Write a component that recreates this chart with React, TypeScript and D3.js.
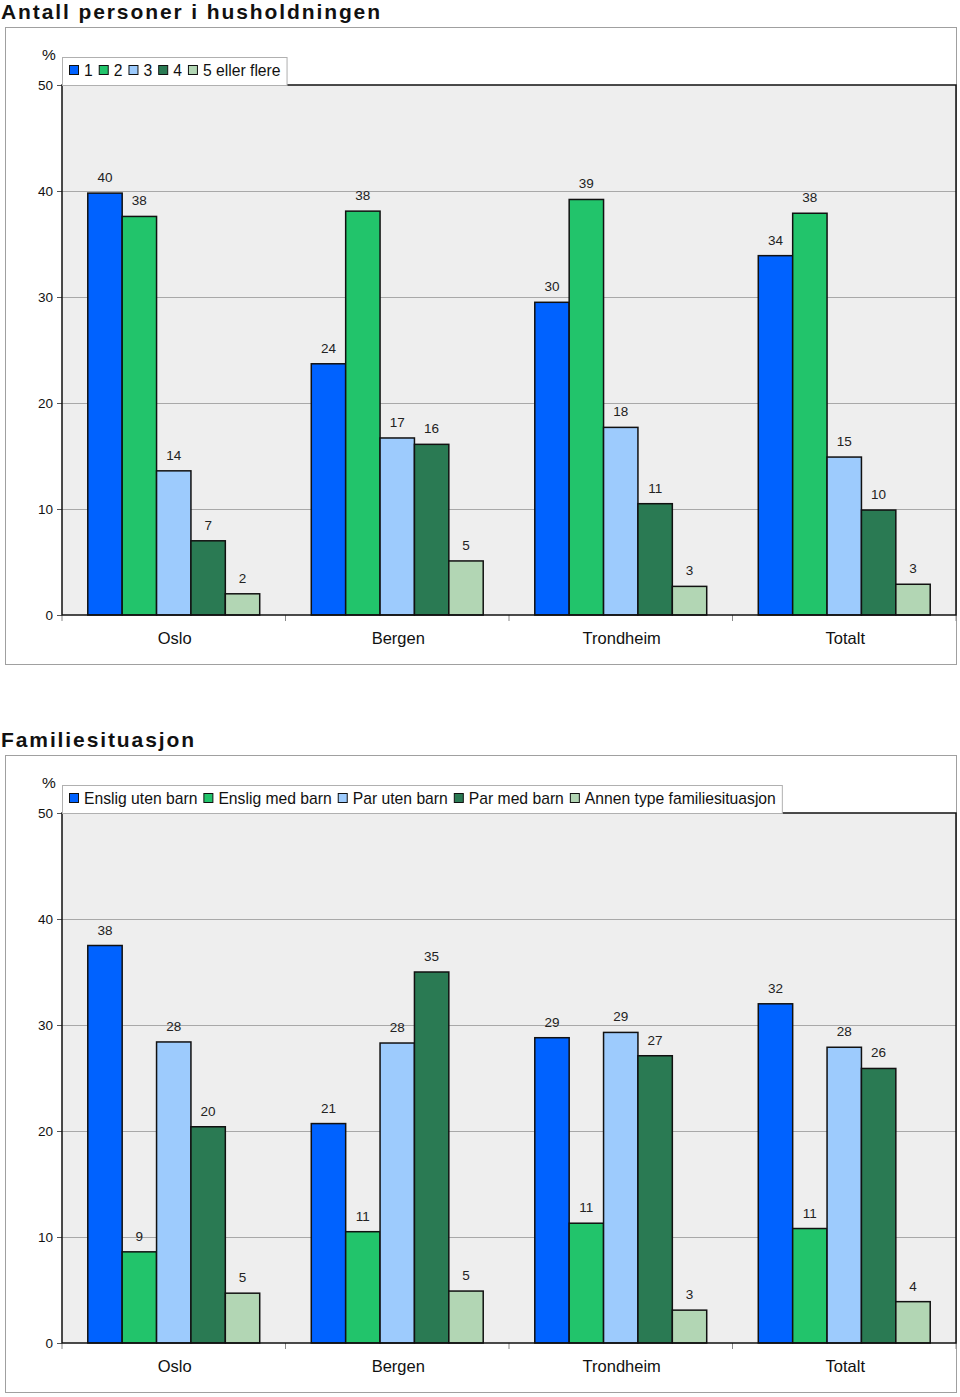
import React, { useEffect, useRef } from "react";
import * as d3 from "d3";

const categories = ["Oslo", "Bergen", "Trondheim", "Totalt"];

const series1Names = ["1", "2", "3", "4", "5 eller flere"];
const s1_1 = [39.8, 23.7, 29.5, 33.9];
const s1_2 = [37.6, 38.1, 39.2, 37.9];
const s1_3 = [13.6, 16.7, 17.7, 14.9];
const s1_4 = [7.0, 16.1, 10.5, 9.9];
const s1_5 = [2.0, 5.1, 2.7, 2.9];

const series2Names = ["Enslig uten barn", "Enslig med barn", "Par uten barn", "Par med barn", "Annen type familiesituasjon"];
const s2_1 = [37.5, 20.7, 28.8, 32.0];
const s2_2 = [8.6, 10.5, 11.3, 10.8];
const s2_3 = [28.4, 28.3, 29.3, 27.9];
const s2_4 = [20.4, 35.0, 27.1, 25.9];
const s2_5 = [4.7, 4.9, 3.1, 3.9];

const yTicks = [0, 10, 20, 30, 40, 50];
const colors = ["#0062ff", "#22c46b", "#9dcbfd", "#2a7a53", "#b2d6b4"];

const FONT = "'Liberation Sans', Arial, Helvetica, sans-serif";

function drawChart(
  g: d3.Selection<SVGGElement, unknown, null, undefined>,
  title: string,
  names: string[],
  data: number[][]
) {
  const plotL = 62, plotR = 956, plotT = 85, plotB = 615;

  g.append("text")
    .attr("x", 1).attr("y", 18.5)
    .attr("font-family", FONT).attr("font-weight", "bold")
    .attr("font-size", 21).attr("letter-spacing", 1.9)
    .attr("fill", "#111").text(title);

  g.append("rect")
    .attr("x", 5.5).attr("y", 27.5).attr("width", 951).attr("height", 637)
    .attr("fill", "#fff").attr("stroke", "#a0a0a0").attr("stroke-width", 1);

  const y = d3.scaleLinear().domain([0, 50]).range([plotB, plotT]);
  const x0 = d3.scaleBand<string>().domain(categories).range([plotL, plotR]);
  const bw = x0.bandwidth() / 6.5;
  const x1 = d3.scaleBand<string>().domain(names)
    .range([0.75 * bw, 5.75 * bw]).paddingInner(0).paddingOuter(0);

  g.append("rect")
    .attr("x", plotL).attr("y", plotT).attr("width", plotR - plotL).attr("height", plotB - plotT)
    .attr("fill", "#eeeeee");

  // gridlines
  g.selectAll("line.grid").data(yTicks.filter(t => t > 0 && t < 50)).enter()
    .append("line")
    .attr("x1", plotL).attr("x2", plotR)
    .attr("y1", d => Math.round(y(d)) + 0.5).attr("y2", d => Math.round(y(d)) + 0.5)
    .attr("stroke", "#a8a8a8").attr("stroke-width", 1);

  // y ticks and labels
  yTicks.forEach(t => {
    const yy = Math.round(y(t)) + 0.5;
    g.append("line").attr("x1", plotL - 5).attr("x2", plotL).attr("y1", yy).attr("y2", yy)
      .attr("stroke", "#555");
    g.append("text").attr("x", 53).attr("y", yy + 4.5)
      .attr("text-anchor", "end").attr("font-family", FONT).attr("font-size", 13.5)
      .attr("fill", "#111").text(String(t));
  });

  g.append("text").attr("x", 49).attr("y", 60).attr("text-anchor", "middle")
    .attr("font-family", FONT).attr("font-size", 15.5).attr("fill", "#111").text("%");

  // x ticks
  const bounds = [plotL, ...categories.map(c => (x0(c) as number) + x0.bandwidth())];
  bounds.forEach(b => {
    g.append("line").attr("x1", b).attr("x2", b).attr("y1", plotB).attr("y2", plotB + 6)
      .attr("stroke", "#888");
  });

  // bars
  categories.forEach((c, ci) => {
    names.forEach((n, si) => {
      const v = data[si][ci];
      const bx = (x0(c) as number) + (x1(n) as number);
      g.append("rect")
        .attr("x", bx).attr("y", y(v)).attr("width", x1.bandwidth()).attr("height", plotB - y(v))
        .attr("fill", colors[si]).attr("stroke", "#111").attr("stroke-width", 1.5);
      g.append("text")
        .attr("x", bx + x1.bandwidth() / 2).attr("y", y(v) - 11)
        .attr("text-anchor", "middle").attr("font-family", FONT).attr("font-size", 13.5)
        .attr("fill", "#222").text(String(Math.round(v)));
    });
    g.append("text")
      .attr("x", (x0(c) as number) + x0.bandwidth() / 2 + 1).attr("y", plotB + 29)
      .attr("text-anchor", "middle").attr("font-family", FONT).attr("font-size", 16.5)
      .attr("fill", "#111").text(c);
  });

  // plot border
  g.append("rect")
    .attr("x", plotL).attr("y", plotT).attr("width", plotR - plotL).attr("height", plotB - plotT)
    .attr("fill", "none").attr("stroke", "#111").attr("stroke-width", 1.5);

  // legend
  const lg = g.append("g");
  const lbox = lg.append("rect").attr("x", plotL + 0.5).attr("y", 57.5).attr("height", 28)
    .attr("fill", "#fff").attr("stroke", "#b0b0b0");
  let cx = 69;
  names.forEach((n, i) => {
    lg.append("rect").attr("x", cx + 0.5).attr("y", 65.5).attr("width", 9).attr("height", 9)
      .attr("fill", colors[i]).attr("stroke", "#111").attr("stroke-width", 1);
    const t = lg.append("text").attr("x", cx + 15).attr("y", 76)
      .attr("font-family", FONT).attr("font-size", 15.7).attr("fill", "#111").text(n);
    const w = (t.node() as SVGTextElement).getComputedTextLength();
    cx = cx + 15 + w + 6;
  });
  lbox.attr("width", cx - plotL);
}

export default function App() {
  const ref = useRef<SVGSVGElement | null>(null);
  useEffect(() => {
    const svg = d3.select(ref.current as SVGSVGElement);
    svg.selectAll("*").remove();
    svg.append("rect").attr("width", 960).attr("height", 1397).attr("fill", "#fff");
    const g1 = svg.append("g");
    drawChart(g1, "Antall personer i husholdningen", series1Names, [s1_1, s1_2, s1_3, s1_4, s1_5]);
    const g2 = svg.append("g").attr("transform", "translate(0,728)");
    drawChart(g2, "Familiesituasjon", series2Names, [s2_1, s2_2, s2_3, s2_4, s2_5]);
  }, []);
  return (
    <svg ref={ref} width={960} height={1397}
      style={{ position: "absolute", left: 0, top: 0, display: "block" }} />
  );
}
